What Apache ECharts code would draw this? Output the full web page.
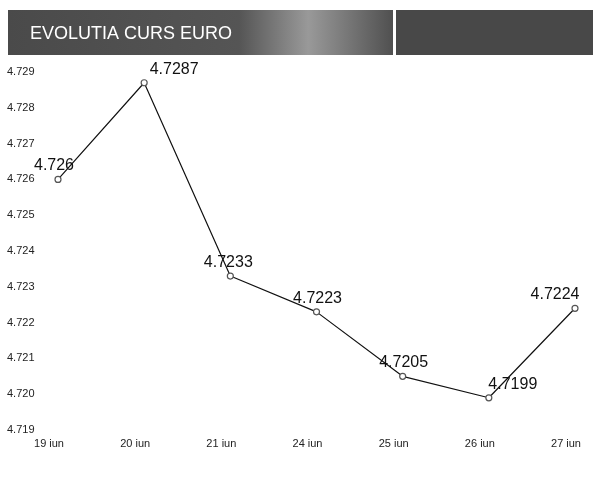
<!DOCTYPE html>
<html>
<head>
<meta charset="utf-8">
<script src="https://cdn.jsdelivr.net/npm/echarts@6/dist/echarts.min.js"></script>
<style>
  html, body { margin: 0; padding: 0; background: #fff; }
  #curs { width: 593px; height: 478px; }
</style>
</head>
<body>
<div id="curs"></div>
<script>
// zilele si cursul BNR
const zile = ['19 iun', '20 iun', '21 iun', '24 iun', '25 iun', '26 iun', '27 iun']
const curs = [4.726, 4.7287, 4.7233, 4.7223, 4.7205, 4.7199, 4.7224]
const yMin = 4.719
const yMax = 4.729
const yPas = 0.001

// unde sta eticheta fata de punct (doar aspect)
const etichetaOffset = [[-4, 3], [30, 3], [-2, 3], [1, 3], [1, 3], [24, 3], [-20, 3]]

const chart = echarts.init(document.getElementById('curs'))

chart.setOption({
  backgroundColor: '#fff',
  animation: false,
  textStyle: { fontFamily: 'Liberation Sans, Arial, sans-serif' },
  graphic: [
    {
      type: 'rect',
      shape: { x: 8, y: 10, width: 385, height: 45 },
      style: {
        fill: new echarts.graphic.LinearGradient(0, 0, 1, 0, [
          { offset: 0, color: '#4a4a4a' },
          { offset: 0.6, color: '#555' },
          { offset: 0.78, color: '#999' },
          { offset: 1, color: '#505050' }
        ])
      }
    },
    {
      type: 'rect',
      shape: { x: 396, y: 10, width: 197, height: 45 },
      style: { fill: '#484848' }
    },
    {
      type: 'text',
      left: 30,
      top: 25,
      style: {
        text: 'EVOLUTIA CURS EURO',
        fill: '#fff',
        font: '18px Liberation Sans, Arial, sans-serif'
      }
    }
  ],
  grid: {
    left: 58,
    right: 18,
    top: 72,
    bottom: 48
  },
  xAxis: {
    type: 'category',
    data: zile,
    boundaryGap: false,
    axisLine: { show: false },
    axisTick: { show: false },
    axisLabel: { color: '#222', fontSize: 11, margin: 8, padding: [0, 18, 0, 0] }
  },
  yAxis: {
    type: 'value',
    min: yMin,
    max: yMax,
    interval: yPas,
    splitLine: { show: false },
    axisLine: { show: false },
    axisTick: { show: false },
    axisLabel: {
      color: '#222',
      fontSize: 11,
      align: 'left',
      margin: 51,
      formatter: v => v.toFixed(3)
    }
  },
  series: [
    {
      type: 'line',
      data: curs.map((v, i) => ({
        value: v,
        label: { offset: etichetaOffset[i] }
      })),
      symbol: 'circle',
      symbolSize: 6,
      itemStyle: { color: '#fff', borderColor: '#555', borderWidth: 1.2 },
      lineStyle: { color: '#111', width: 1.2 },
      label: {
        show: true,
        position: 'top',
        color: '#111',
        fontSize: 16,
        formatter: p => String(p.value)
      }
    }
  ]
})
</script>
</body>
</html>
